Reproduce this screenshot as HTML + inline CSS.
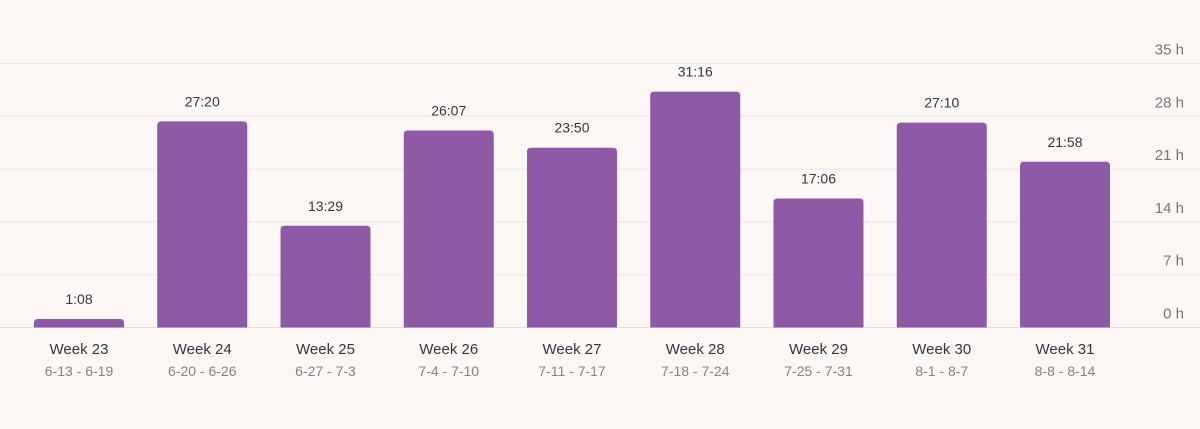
<!DOCTYPE html>
<html><head><meta charset="utf-8"><style>
html,body{margin:0;padding:0;background:#fdf7f5;}
svg{display:block;font-family:"Liberation Sans",sans-serif;}
</style></head><body>
<svg id="chart" width="1200" height="429" viewBox="0 0 1200 429">
<rect width="1200" height="429" fill="#fdf7f5"/>
</svg>
<script>
const weeks=["Week 23","Week 24","Week 25","Week 26","Week 27","Week 28","Week 29","Week 30","Week 31"];
const ranges=["6-13 - 6-19","6-20 - 6-26","6-27 - 7-3","7-4 - 7-10","7-11 - 7-17","7-18 - 7-24","7-25 - 7-31","8-1 - 8-7","8-8 - 8-14"];
const valueLabels=["1:08","27:20","13:29","26:07","23:50","31:16","17:06","27:10","21:58"];
const ticks=[0,7,14,21,28,35];
const NS="http://www.w3.org/2000/svg";
const svg=document.getElementById('chart');
const y0=327.5,pxPerH=52.8/7;
function y(h){return y0-h*pxPerH;}
function x(i){return 79+i*123.25;}
function hours(s){const p=s.split(':');return +p[0]+(+p[1])/60;}
function mk(tag,attrs,text){const e=document.createElementNS(NS,tag);for(const k in attrs)e.setAttribute(k,attrs[k]);if(text!==undefined)e.textContent=text;svg.appendChild(e);return e;}
ticks.forEach(t=>{
  const g=mk('line',{x1:0,x2:1200,y1:y(t),y2:y(t),stroke:t===0?'#e6dde0':'#ede5e6','stroke-width':1});
  
  
  const l=mk('text',{x:1184,y:y(t)-9,'text-anchor':'end','font-size':15,fill:'#7d727a'},t+' h');
  
  
});
const bw=90,r=4;
valueLabels.forEach((v,i)=>{
  const h=hours(v),top=y(h),left=x(i)-bw/2,bh=y0-top;
  const rr=Math.min(r,bh);
  const d=`M${left},${y0}V${top+rr}Q${left},${top} ${left+rr},${top}H${left+bw-rr}Q${left+bw},${top} ${left+bw},${top+rr}V${y0}Z`;
  const b=mk('path',{d:d,fill:'#8e59a5'});
  
  
  const vl=mk('text',{x:x(i),y:top-15,'text-anchor':'middle','font-size':14,fill:'#3a3240'},v);
  
  
  const wl=mk('text',{x:x(i),y:354,'text-anchor':'middle','font-size':15,fill:'#3a3240'},weeks[i]);
  
  
  const rl=mk('text',{x:x(i),y:376,'text-anchor':'middle','font-size':14,fill:'#8a7f88'},ranges[i]);
  
  
});
</script>
</body></html>
